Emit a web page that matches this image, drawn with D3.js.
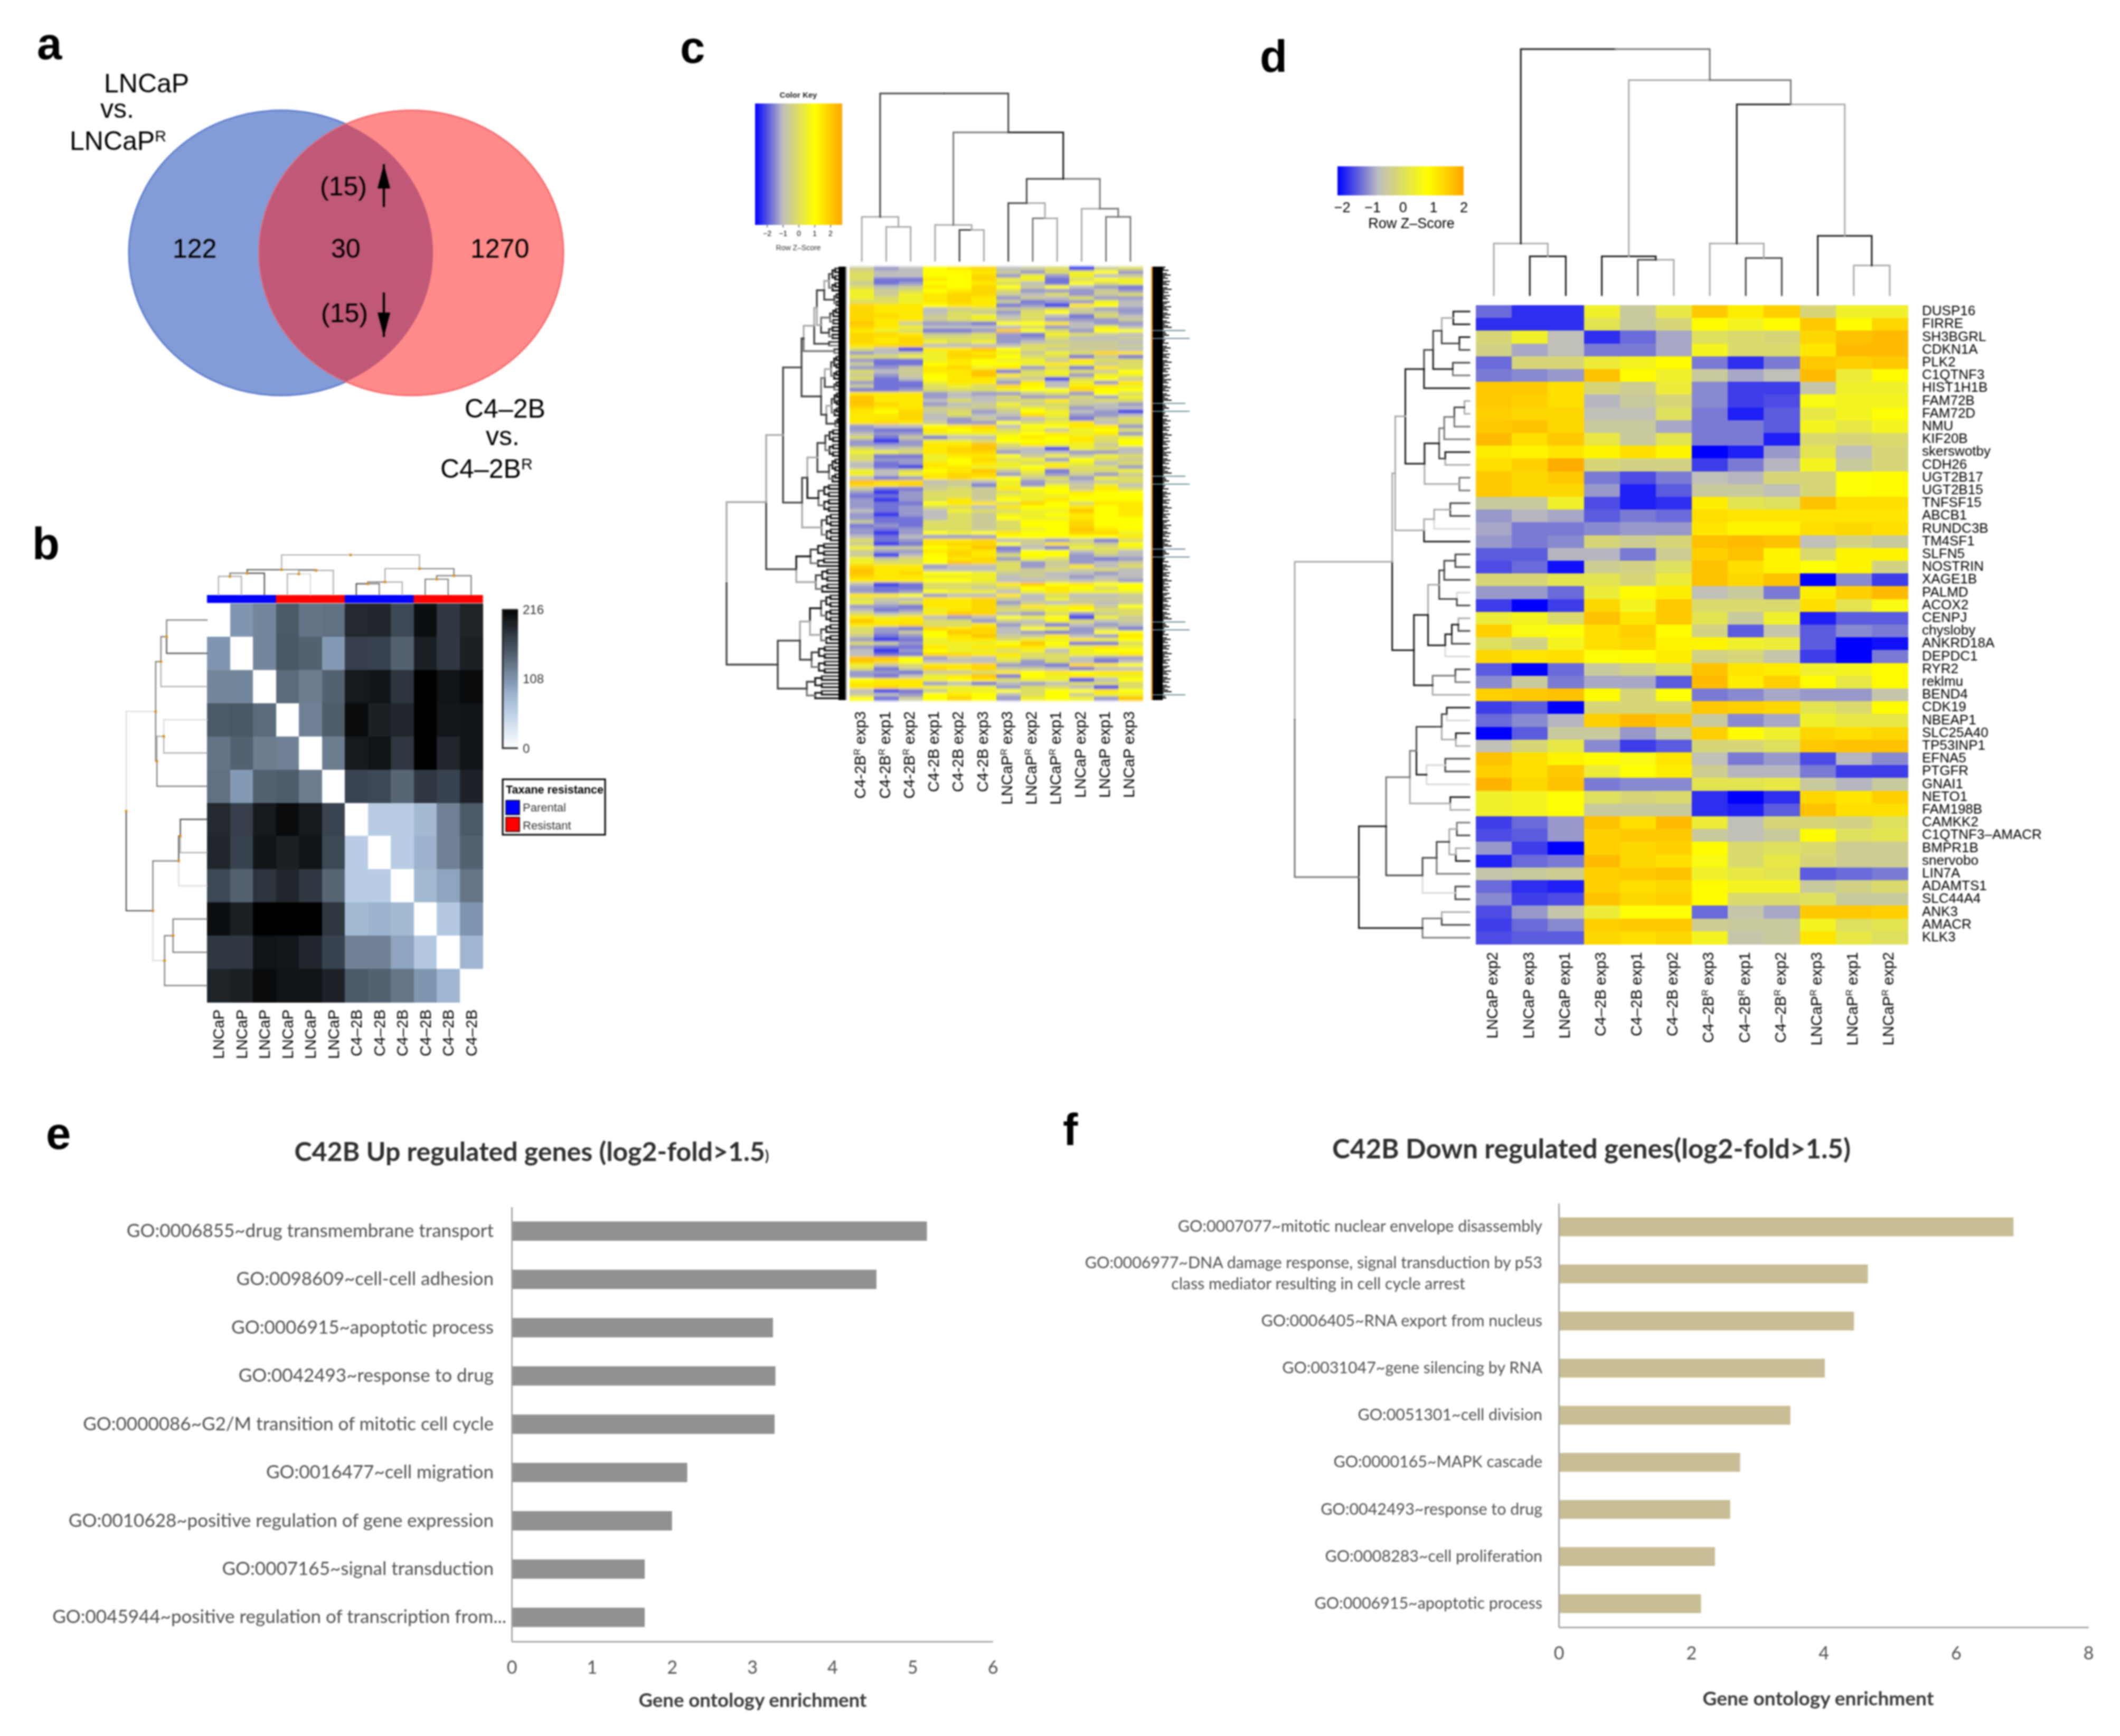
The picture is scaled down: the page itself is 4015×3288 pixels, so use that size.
<!DOCTYPE html>
<html><head><meta charset="utf-8">
<script src="https://cdn.jsdelivr.net/npm/d3@7"></script>
<style>html,body{margin:0;background:#fff}svg{display:block;filter:blur(1.6px)}text{font-family:"Liberation Sans",Arial,sans-serif}.lato text,text.lato{font-family:Lato,sans-serif}</style>
</head><body><svg id="c" width="4015" height="3288" viewBox="0 0 4015 3288"></svg>
<script>
// ---------- DATA ----------
const panelLetters=[["a",70,112],["b",61,1059],["c",1288,119],["d",2386,136],["e",87,2176],["f",2013,2169]];
// a: Venn
const vennCounts={left:"122",both:"30",right:"1270",up:"(15)",down:"(15)"};
// b: sample distance heatmap
const bLabels=["LNCaP","LNCaP","LNCaP","LNCaP","LNCaP","LNCaP","C4–2B","C4–2B","C4–2B","C4–2B","C4–2B","C4–2B"];
const bGroups=["P","P","P","R","R","R","P","P","P","R","R","R"];
const bMatrix=[
[0,105,118,150,132,134,188,190,165,208,178,192],
[105,0,118,152,145,102,172,170,145,195,178,195],
[118,118,0,138,125,145,200,204,180,216,205,210],
[150,152,138,0,122,148,210,195,190,216,203,205],
[132,145,125,122,0,125,200,205,178,216,190,205],
[134,102,145,148,125,0,168,165,142,178,170,193],
[188,172,200,210,200,168,0,58,58,78,122,150],
[190,170,204,195,205,165,58,0,58,85,122,145],
[165,145,180,190,178,142,58,58,0,78,95,130],
[208,195,216,216,216,178,78,85,78,0,62,105],
[178,178,205,203,190,170,122,122,95,62,0,82],
[192,195,210,205,205,193,150,145,130,105,82,0]];
const bColorDomain=[0,58,85,105,125,150,170,190,205,216];
const bColorRange=["#ffffff","#b8cde4","#9db3cd","#8096b0","#6d7d90","#4c5a68","#38424e","#21262c","#101417","#000000"];
// dendrogram nodes: [height, childA, childB, greyA, greyB]; a number is a leaf index
const greys=["#1a1a1a","#444444","#777777","#aaaaaa","#d8d8d8"];
const bColTree=[114,[72,[62,[53,0,1,3,3],2,2,1],[70,[60,3,4,3,4],5,3,3],1,2],[75,[37,[32,6,7,1,2],8,2,3],[55,[45,9,10,2,2],11,2,2],3,2],3,3];
const bRowTree=[200,[127,[114,[100,0,1,2,1],2,2,3],[124,[107,3,4,4,3],5,3,2],2,2],[134,[70,[66,6,7,1,3],8,1,4],[105,[84,9,10,2,2],11,2,2],2,4],4,1];
// c: heatmap, one character per column in each row
const cLabels=["C4-2B^R exp3","C4-2B^R exp1","C4-2B^R exp2","C4-2B exp1","C4-2B exp2","C4-2B exp3","LNCaP^R exp3","LNCaP^R exp2","LNCaP^R exp1","LNCaP exp2","LNCaP exp1","LNCaP exp3"];
const cLevels={B:-1.7,b:-1.25,p:-1.0,g:-.75,o:-.45,d:-.05,e:.4,y:.75,u:1.05,f:1.3,a:1.55};
const cRows=["opgyufgodBod","dggyyuopdeyp","dggyyfpepego","dbbuyfeebdye","obpyyudgbyde","dgouyfyoygpb","eodyufdpppop","eoeuffogdpod","edeufupogdpp","ddeufuobppeg","fuuyuubpBuyg",
"fuugodoodopp","fuugdopdyoop","ffuodegdgbdg","fuuodeodpppo","auoppbyyugpp","fueggggdpgeg","uedbbpaydpyy","ffuoodpbedog","fufdddppdggo","fufedepgooog","uffggggddooo",
"dgBuuaydooog","pgoefueoedfu","ddeeffyddbob","pbbeuyeeoudd","obbyuyyeueod","ppoufeupdbud","dgouuabdedoy","opoyuaudepee","dbgyuuooBdyo","pbbeuupugepu","obbdedfyguue",
"bbpdddeyyfyy","uuupgppodpyd","auupggdppdpe","auugdgoduodd","afupgoeodogp","fuuoooded pgg","uyfodpoyegpB","uufgdggfeppg","uufgpopgdbod","ufuoppydeugd",
"pggyufgyyuup","pbbuyudeoeyd","gppeeeeyueup","dbobggyuyude","pBpeedyyyudy","pppuuaduee oy","dgoufaogBedg","eeduffpggppg","dbbeuuyoeoed","dppeyfdepydo","gbpuyuedeegd","gbBuueeyuddp","egdyuaoebdde","egeuffpdpopo","gbpufuyodped","affgogepogod",
"fufoobepeoeg","obbodouyyoud","pBpddodeyuyy","bbpddoeeeyyy","pBpduoyeuyyy","pbbyuudfyduu","pbpddguyyuyu","gbpgeddeeayu","pBpgdoeeyuyu","pbbgdoyeeuyy","obbddodyyfyy","bpbddodyyfyy","pbpddodeyauy","pBpyeyuyyffe","gbgpppyyyyyu",
"dbpuufgopobd","oBbuffyoudoy","eooyuabgbede","oppufupyygdg","oBgyfudyypog","eodyufpedpbp","eddyafdpopgo","fuupggdpougd","auugggdododg","aufyyeooggpg","fuueeegogpgg","uuuyyeggogop","gBbdddua yuyy","pbbddodyuydy",
"pbpyeegeueee","uuypggugdggo","doguufogeooo","egduufpogogo","ppbuufoueuoy","gbpeufddeydd","dgouafgpdpod","ueugpgyeyBeo","auuddpogedgo","uufddupobgpg","dpbfufgyepob","dpoyafgpbpyy","obpyuaoougpu","pBbeuudeeuey",
"dopeeeyaybbd","pbbueuuueeue","gBpyeedegeyy","gbbffuuddeeu","aaypogeddgpp","afygggdpdgbg","eoduufppbfuy","dbofufoogbgg","ppboodmyuyuu","pbgeuabyeuee","yuueyudeeBgy","uuupgbgpgddd","ufueeepddgBd","gBboeeydyyuy","ogpyuygdyoee","yboyfypeyepa"];
const cColTree=[331,[87,0,[67,1,2,3,3],3,3],[254,[71,3,[61,4,5,1,3],3,3],[162,[114,6,[84,7,8,2,3],1,3],[103,9,[87,10,11,2,2],3,2],1,2],2,0],1,1];
const cSideLens=[24,22,30,18,27,34,24,29,20,33,26,31,19,28,36,23,30,21,33,25,29,18,32,27,22,35,26,30,20,28,34,24,31,19,27,33,23,29,36,21,62,24,26,31,22,70];
// d: heatmap z-scores
const dGenes=["DUSP16","FIRRE","SH3BGRL","CDKN1A","PLK2","C1QTNF3","HIST1H1B","FAM72B","FAM72D","NMU","KIF20B","skerswotby","CDH26","UGT2B17","UGT2B15","TNFSF15","ABCB1","RUNDC3B","TM4SF1","SLFN5","NOSTRIN","XAGE1B","PALMD","ACOX2","CENPJ","chysloby","ANKRD18A","DEPDC1","RYR2","reklmu","BEND4","CDK19","NBEAP1","SLC25A40","TP53INP1","EFNA5","PTGFR","GNAI1","NETO1","FAM198B","CAMKK2","C1QTNF3–AMACR","BMPR1B","snervobo","LIN7A","ADAMTS1","SLC44A4","ANK3","AMACR","KLK3"];
const dLabels=["LNCaP exp2","LNCaP exp3","LNCaP exp1","C4–2B exp3","C4–2B exp1","C4–2B exp2","C4–2B^R exp3","C4–2B^R exp1","C4–2B^R exp2","LNCaP^R exp3","LNCaP^R exp1","LNCaP^R exp2"];
const dValues=[
[-1.3,-1.7,-1.7,.4,-.5,.2,1.5,1,1.4,-.2,.4,.4],
[-1.7,-1.7,-1.7,.1,-.5,-.2,.8,.5,.8,1.5,.8,1.3],
[-.2,.4,-.7,-1.7,-1.3,-.9,0,-.1,-.2,1.3,1.6,1.7],
[-.3,-.9,-.7,-1.2,-1.2,-.9,.5,-.1,-.1,1.1,1.7,1.7],
[-1.3,-.2,-.2,.3,.5,.8,-1.2,-1.7,-1.2,1.5,1.4,1.5],
[-1.2,-1.1,-1,1.6,.8,.4,-.5,-.9,-.7,1.7,.3,.8],
[1.5,1.5,1.2,-.2,-.4,.3,-1.1,-1.6,-1.6,-.6,.4,.4],
[1.5,1.4,1.2,-.8,-.5,-.2,-1.1,-1.6,-1.5,.6,.5,.5],
[1.4,1.3,1.3,-.7,-.7,0,-1.2,-1.8,-1.4,.2,.5,.7],
[1.5,1.6,1.3,-.5,-.5,-.9,-1.2,-1.2,-1.4,.5,.2,.5],
[1.7,1.2,1.5,.2,-.5,.1,-1.2,-1.2,-1.8,-.1,-.2,-.1],
[1,.9,1.1,.9,1.2,.9,-2.1,-1.8,-1,.1,-.7,-.2],
[1.2,1.4,1.9,-.2,-.3,-.3,-1.6,-1.2,-.8,.5,-.5,-.2],
[1.5,1.3,1.5,-1.2,-1.5,-1.2,-.7,-.8,-.2,-.2,.7,.8],
[1.5,1.3,1.3,-1,-1.8,-1.4,-.5,-.5,-.7,-.2,.7,.8],
[-.5,-.5,.4,-1.5,-1.8,-1.7,1,.1,0,1.6,1.2,1.2],
[-1,-.8,-.9,-1.4,-1.2,-1.3,1.2,1.1,1.1,1.1,1.1,1.1],
[-.9,-1.2,-1.2,-1.1,-1,-1,1.1,.9,.9,1.2,1.3,1.2],
[-1,-1.2,-1.1,-.2,-.4,-.2,1.6,1.7,1.6,-.7,-.3,-.5],
[-1.4,-1.4,-.8,-.8,-1.2,-.4,1.4,1.6,.9,-.1,.9,.9],
[-1.5,-1.3,-1.9,-.4,-.3,0,1.6,1.2,.9,.7,.9,-.3],
[-.2,-.2,.1,.1,-.2,.3,1.6,1.3,1.6,-2,-1.1,-1.6],
[-1,-1,-1.3,.3,.8,1,-.7,-.5,-1.2,1,1.4,1.7],
[-1.6,-2,-1.6,1.3,.5,1.5,-.1,-.1,-.1,1.2,.1,.6],
[.3,.5,-.1,1.6,1.1,1.5,.1,-.5,.4,-1.8,-1.4,-1.4],
[1.4,.6,.7,1.2,1.4,.8,-.3,-1.4,-.6,-1.4,-1.1,-1.2],
[0,-.3,.5,1.2,1.3,.9,.9,.4,.3,-1.4,-2,-1.9],
[1.3,1.1,1.2,.7,.8,1,-.3,-.2,-.6,-1.6,-2.1,-1.2],
[-1.4,-2,-1.3,-.5,-.3,0,1.6,1.1,1,.4,.5,.8],
[-1.1,-.5,-1.2,-.9,-.9,-1.4,1.7,1,1.4,.8,.2,.8],
[1.4,1.5,1.6,.8,-.2,.7,-1.2,-1.1,-.9,-1,-1,-.6],
[-1.6,-1.4,-2,-.2,-.2,-.2,1.5,1.4,1.3,.1,-.1,.8],
[-1.3,-1.1,-.8,1.4,1.7,1.5,-.5,-1.1,-.9,.4,.2,.2],
[-2.1,-1.4,-.5,-.5,-1,-.5,1.4,.8,.4,1.3,1.2,1.3],
[-.7,-.2,.2,-1.1,-1.6,-1.4,-.2,-.2,0,1.5,1.6,1.6],
[1.6,1.2,.9,.8,.6,1.1,-.7,-1.2,-1,-1.5,-.8,-1.1],
[1.4,1.2,1.5,.3,.7,1,-.4,-.8,-.8,-1.2,-1.6,-1.6],
[1.8,1.3,1.6,-1.2,-1.1,-1.1,.1,.1,.2,-.5,-.8,-.5],
[.4,.5,.7,0,-.2,-.1,-1.7,-2.1,-1.7,1.3,1.1,1.4],
[.4,.5,.7,-.5,-.5,-.5,-1.7,-1.8,-1.4,1.6,1.2,1.2],
[-1.6,-1.3,-1,1.6,1.2,1.7,.3,-.7,-.2,-.2,-.3,0],
[-1.5,-1.4,-1,1.4,1.5,1.5,-.5,-.7,-.5,.8,0,.1],
[-1,-1.6,-2,1.4,1.3,1.4,.8,-.1,0,-.1,-.4,-.4],
[-1.8,-1.3,-1.2,1.7,1.3,1.2,.6,-.1,.2,-.2,-.4,-.4],
[-.6,-.5,-.4,1.4,1.5,1.6,.4,.2,.1,-1.4,-1.3,-1.2],
[-1.3,-1.7,-1.8,1.4,1.2,1.3,.8,.5,.5,-.5,-.3,-.1],
[-1.1,-1.6,-1.5,1.6,1.3,1.4,.8,-.1,-.1,0,-.5,-.5],
[-1.5,-1,-.6,.3,.7,.7,-1.3,-.6,-.9,1.5,1.5,1.4],
[-1.6,-1.3,-1.1,1.4,1.5,1.5,-.4,-.5,-.5,.5,0,.1],
[-1.5,-1.4,-1.4,1.3,1.2,1.3,.5,-.6,-.5,1.1,.2,0]];
const dColTree=[730,[153,0,[115,1,2,0,0],3,3],[638,[115,3,[105,4,5,1,3],0,0],[566,[153,6,[110,7,8,1,1],3,3],[176,9,[88,10,11,3,3],0,0],0,3],3,2],0,2];
const dRowUpper=[153,[147,[127,[90,[72,[55,[32,0,1,0,0],[20,2,3,0,1],3,1],[33,4,5,1,2],1,0],6,1,0],[89,[60,[50,[30,[10,7,8,3,3],9,1,2],10,2,2],[48,11,12,0,3],2,1],[20,13,14,2,2],0,3],0,0],[90,[70,[38,15,16,1,1],17,3,4],18,3,0],3,3],[110,[82,[60,[50,[28,19,20,1,1],21,1,1],[25,22,23,4,1],1,1],[48,[35,[22,24,25,3,1],26,0,1],27,0,4],3,0],[73,[28,28,29,1,2],30,2,3],0,0],3,0];
const dRowLower=[219,[165,[118,[105,[55,[45,31,32,0,4],[27,33,34,0,3],1,3],[85,[48,35,36,1,1],37,4,4],1,0],[38,38,39,0,3],2,3],[93,[65,[40,[25,40,41,2,1],[27,42,43,3,0],3,3],44,1,2],[28,45,46,1,1],1,4],2,1],[93,[55,47,48,3,1],49,2,2],0,0];
const dRowTree=[346,dRowUpper,dRowLower,3,2];
// e, f: bar charts
const eTerms=["GO:0006855~drug transmembrane transport","GO:0098609~cell-cell adhesion","GO:0006915~apoptotic process","GO:0042493~response to drug","GO:0000086~G2/M transition of mitotic cell cycle","GO:0016477~cell migration","GO:0010628~positive regulation of gene expression","GO:0007165~signal transduction","GO:0045944~positive regulation of transcription from..."];
const eValues=[5.18,4.55,3.26,3.29,3.28,2.19,2.0,1.66,1.66];
const fTerms=["GO:0007077~mitotic nuclear envelope disassembly","GO:0006977~DNA damage response, signal transduction by p53|class mediator resulting in cell cycle arrest","GO:0006405~RNA export from nucleus","GO:0031047~gene silencing by RNA","GO:0051301~cell division","GO:0000165~MAPK cascade","GO:0042493~response to drug","GO:0008283~cell proliferation","GO:0006915~apoptotic process"];
const fValues=[6.87,4.67,4.46,4.02,3.50,2.74,2.59,2.36,2.15];

// ---------- HELPERS ----------
const svg=d3.select("#c"), defs=svg.append("defs");
const rowBlur=defs.append("filter").attr("id","rowBlur").attr("x","-2%").attr("y","-2%").attr("width","104%").attr("height","104%");
rowBlur.append("feGaussianBlur").attr("stdDeviation","0.5 2.2");
function rich(t,str){ str.split(/\^(\w)/).forEach((s,i)=>{ if(!s) return; const ts=t.append("tspan").text(s);
  if(i%2){ts.attr("baseline-shift","super").attr("font-size","60%");} }); return t; }
function label(x,y,str,size,opt={}){ const t=svg.append("text").attr("x",x).attr("y",y).attr("font-size",size)
  .attr("fill",opt.fill||"#000").attr("text-anchor",opt.anchor||"start").attr("font-weight",opt.weight||null).attr("class",opt.cls||null);
  return rich(t,str); }
panelLetters.forEach(d=>label(d[1],d[2],d[0],85,{weight:"bold"}));
const heatColor=d3.scaleLinear().domain([-2,-.75,.75,2]).range(["#0000ff","#bebebe","#ffff00","#ffa500"]).clamp(true);

// Dendrogram: pos(leaf)->leaf position, hs(h)->height position, orient "top"|"left"
function dendro(tree,pos,hs,orient,opt={}){
  const g=svg.append("g").attr("fill","none").attr("stroke-width",opt.width||2.6).attr("stroke-linecap","square");
  const dots=[];
  function walk(n){
    if(typeof n==="number") return {p:pos(n),h:0};
    const a=walk(n[1]), b=walk(n[2]), p=(a.p+b.p)/2, h=n[0];
    [[a,n[3]],[b,n[4]]].forEach(([c,col])=>{
      const path=d3.path();
      if(orient==="top"){path.moveTo(c.p,hs(c.h));path.lineTo(c.p,hs(h));path.lineTo(p,hs(h));}
      else{path.moveTo(hs(c.h),c.p);path.lineTo(hs(h),c.p);path.lineTo(hs(h),p);}
      g.append("path").attr("d",path.toString()).attr("stroke",greys[col===undefined?(opt.def||1):col]);
    });
    dots.push(orient==="top"?[p,hs(h)]:[hs(h),p]);
    return {p,h};
  }
  walk(tree);
  if(opt.dots) svg.append("g").selectAll("circle").data(dots).join("circle").attr("cx",d=>d[0]).attr("cy",d=>d[1]).attr("r",2.6).attr("fill","#d98c1a");
}
function gradient(id,scale,dom,vertical){ const g=defs.append("linearGradient").attr("id",id);
  if(vertical) g.attr("x1",0).attr("y1",1).attr("x2",0).attr("y2",0);
  d3.range(0,1.001,.04).forEach(t=>g.append("stop").attr("offset",t).attr("stop-color",scale(dom[0]+t*(dom[1]-dom[0])))); return `url(#${id})`; }
function colLabels(x,top,labels,size,off=.36){ labels.forEach((s,i)=>{ const cx=x(i)+x.bandwidth()/2+size*off;
  const t=svg.append("text").attr("text-anchor","end").attr("font-size",size).attr("transform",`translate(${cx},${top}) rotate(-90)`); rich(t,s);}); }
function cells(x,y,vals,fill){ const g=svg.append("g").attr("shape-rendering","crispEdges"); g.selectAll("g").data(vals).join("g").each(function(r,i){
  d3.select(this).selectAll("rect").data(r).join("rect").attr("x",(d,j)=>x(j)).attr("y",y(i)).attr("width",x.bandwidth()+.6).attr("height",y.bandwidth()+.6).attr("fill",fill);}); return g; }

// ---------- a ----------
(function(){
  const rx=288, ry=270, cy=479, lx=532, rxc=779;
  defs.append("clipPath").attr("id","lens").append("ellipse").attr("cx",lx).attr("cy",cy).attr("rx",rx).attr("ry",ry);
  svg.append("ellipse").attr("cx",lx).attr("cy",cy).attr("rx",rx).attr("ry",ry).attr("fill","#839bd6").attr("stroke","#5f7fcf").attr("stroke-width",3);
  svg.append("ellipse").attr("cx",rxc).attr("cy",cy).attr("rx",rx).attr("ry",ry).attr("fill","#ff8a8a").attr("stroke","#f86a70").attr("stroke-width",3);
  svg.append("ellipse").attr("cx",rxc).attr("cy",cy).attr("rx",rx).attr("ry",ry).attr("fill","#c05878").attr("clip-path","url(#lens)");
  label(197,175,"LNCaP",50); label(190,223,"vs.",50); label(132,284,"LNCaP^R",50);
  label(880,791,"C4–2B",50); label(920,843,"vs.",50); label(834,905,"C4–2B^R",50);
  label(327,488,vennCounts.left,50); label(627,488,vennCounts.both,50); label(891,488,vennCounts.right,50);
  label(606,370,vennCounts.up,50); label(608,610,vennCounts.down,50);
  const arrow=(x,y1,y2)=>{const dir=y2<y1?1:-1;
    svg.append("line").attr("x1",x).attr("x2",x).attr("y1",y1).attr("y2",y2).attr("stroke","#000").attr("stroke-width",4);
    svg.append("path").attr("d",`M${x},${y2}L${x-12},${y2+dir*46}L${x+12},${y2+dir*46}Z`).attr("fill","#000");};
  arrow(727,392,311); arrow(727,554,638);
})();

// ---------- b ----------
(function(){
  const idx=d3.range(12);
  const x=d3.scaleBand().domain(idx).range([392,914]), y=d3.scaleBand().domain(idx).range([1143,1898]);
  const col=d3.scaleLinear().domain(bColorDomain).range(bColorRange);
  cells(x,y,bMatrix,d=>col(d));
  svg.append("g").selectAll("rect").data(bGroups).join("rect").attr("x",(d,i)=>x(i)).attr("y",1127).attr("width",x.bandwidth()+.6).attr("height",15).attr("fill",d=>d==="P"?"#0000ff":"#ff0000");
  dendro(bColTree,i=>x(i)+x.bandwidth()/2,d3.scaleLinear().domain([0,114]).range([1127,1051]),"top",{dots:true,width:2.2});
  dendro(bRowTree,i=>y(i)+y.bandwidth()/2,d3.scaleLinear().domain([0,200]).range([392,239]),"left",{dots:true,width:2.2});
  colLabels(x,1912,bLabels,29);
  // key
  const fill=gradient("bk",col,[0,216],true);
  svg.append("rect").attr("x",952).attr("y",1155).attr("width",29).attr("height",262).attr("fill",fill);
  svg.append("path").attr("d","M981,1155H952V1417H981").attr("fill","none").attr("stroke","#222").attr("stroke-width",3);
  [["216",1163],["108",1294],["0",1426]].forEach(d=>label(990,d[1],d[0],24,{fill:"#333"}));
  svg.append("rect").attr("x",952).attr("y",1476).attr("width",194).attr("height",105).attr("fill","#fff").attr("stroke","#000").attr("stroke-width",3);
  label(958,1503,"Taxane resistance",21.5,{weight:"bold"});
  [["Parental",1516,"#0000ff",1537],["Resistant",1548,"#ff0000",1571]].forEach(d=>{
    svg.append("rect").attr("x",958).attr("y",d[1]).attr("width",26).attr("height",27).attr("fill",d[2]).attr("stroke","#000").attr("stroke-width",1.5);
    label(990,d[3],d[0],22,{fill:"#333"});});
})();

// ---------- c ----------
(function(){
  const vals=cRows.map(r=>r.replace(/ /g,"").replace(/m/g,"u").slice(0,12).split("").map(c=>cLevels[c]));
  const x=d3.scaleBand().domain(d3.range(12)).range([1609,2164]), y=d3.scaleBand().domain(d3.range(vals.length)).range([505,1326]);
  cells(x,y,vals,d=>heatColor(d)).attr("filter","url(#rowBlur)");
  colLabels(x,1347,cLabels,29,.25);
  dendro(cColTree,i=>x(i)+x.bandwidth()/2,d3.scaleLinear().domain([0,331]).range([494,177]),"top",{width:3});
  // row tree: cl() spreads a run of heatmap rows into a small balanced subtree
  const cl=(a,b,h,depth=0)=>{ if(a===b) return a; const m=Math.floor((a+b)/2);
    const c=depth%2?0:1; return [h,cl(a,m,h*.78,depth+1),cl(m+1,b,h*.78,depth+1),c,depth%3?0:2]; };
  const A=[39,cl(0,6,30),cl(7,10,20),3,1], B=[45,cl(11,15,28),cl(16,19,30),2,1];
  const X1=[78,[58,[53,A,B,1,3],cl(20,21,30),3,1],cl(22,23,20),3,2];
  const X2=[45,[38,cl(24,30,26),cl(31,33,20),3,1],[35,cl(34,40,25),cl(41,43,18),3,1],2,1];
  const E=[81,[71,[52,cl(44,51,37),cl(52,58,30),1,1],cl(59,66,50),3,0],cl(67,74,44),1,3];
  const Mid=[117,[82,X1,X2,1,1],E,1,1];
  const H=[92,cl(75,81,65),cl(82,88,55),0,3];
  const Lower=[127,[85,[66,cl(89,96,45),cl(97,102,45),0,3],cl(103,110,63),3,1],cl(111,117,72),1,1];
  const tree=[224,[149,Mid,H,3,1],Lower,3,1];
  dendro(tree,i=>y(i)+y.bandwidth()/2,d3.scaleLinear().domain([0,224]).range([1600,1376]),"left",{width:3.4});
  svg.append("rect").attr("x",1588).attr("y",505).attr("width",13).attr("height",821).attr("fill","#000");
  svg.append("rect").attr("x",1601).attr("y",505).attr("width",3).attr("height",821).attr("fill","#999");
  // right side: unreadable tiny gene labels, drawn as a black comb
  svg.append("rect").attr("x",2180).attr("y",505).attr("width",3).attr("height",821).attr("fill","#f29a2e");
  svg.append("rect").attr("x",2183).attr("y",505).attr("width",19).attr("height",821).attr("fill","#000");
  svg.append("g").selectAll("rect").data(d3.range(273)).join("rect").attr("x",2183).attr("y",i=>505+i*3).attr("height",2)
    .attr("width",i=>cSideLens[i%cSideLens.length]).attr("fill",i=>cSideLens[i%cSideLens.length]>40?"#6a8a96":"#000");
  // key
  const kx=d3.scaleLinear().domain([-2.75,2.75]).range([1430,1595]);
  const fill=gradient("ck",d3.scaleLinear().domain([-2.75,-1,1,2.75]).range(["#0000ff","#bebebe","#ffff00","#ffa500"]),[-2.75,2.75]);
  svg.append("rect").attr("x",1430).attr("y",196).attr("width",165).attr("height",230).attr("fill",fill);
  const ax=svg.append("g").attr("transform","translate(0,426)").call(d3.axisBottom(kx).tickValues([-2,-1,0,1,2]).tickSize(5).tickPadding(6).tickFormat(d3.format("d")));
  ax.select(".domain").remove(); ax.selectAll("text").attr("font-size",14).attr("font-family","Liberation Sans");
  label(1512,185,"Color Key",15,{anchor:"middle",weight:"bold",fill:"#222"});
  label(1512,474,"Row Z–Score",14,{anchor:"middle",fill:"#333"});
})();

// ---------- d ----------
(function(){
  const x=d3.scaleBand().domain(d3.range(12)).range([2795,3613]), y=d3.scaleBand().domain(d3.range(50)).range([578,1788]);
  cells(x,y,dValues,d=>heatColor(d));
  dGenes.forEach((g,i)=>label(3640,y(i)+y.bandwidth()/2+7,g,26));
  colLabels(x,1803,dLabels,29,.25);
  dendro(dColTree,i=>x(i)+x.bandwidth()/2,d3.scaleLinear().domain([0,730]).range([559,93]),"top",{width:3});
  dendro(dRowTree,i=>y(i)+y.bandwidth()/2,d3.scaleLinear().domain([0,346]).range([2783,2452]),"left",{width:3});
  const kx=d3.scaleLinear().domain([-2.15,2]).range([2533,2772]);
  const fill=gradient("dk",d3.scaleLinear().domain([-2.15,-.8,.8,2]).range(["#0000ff","#bebebe","#ffff00","#ffa500"]),[-2.15,2]);
  svg.append("rect").attr("x",2533).attr("y",315).attr("width",239).attr("height",55).attr("fill",fill);
  const ax=svg.append("g").attr("transform","translate(0,370)").call(d3.axisBottom(kx).tickValues([-2,-1,0,1,2]).tickSize(0).tickPadding(13).tickFormat(d3.format("d")));
  ax.select(".domain").remove(); ax.selectAll("text").attr("font-size",27).attr("font-family","Liberation Sans");
  label(2673,432,"Row Z–Score",27,{anchor:"middle"});
})();

// ---------- e, f ----------
function bars(o){
  const x=d3.scaleLinear().domain([0,o.max]).range([o.x0,o.x1]);
  const y=d3.scaleBand().domain(o.terms).range([o.top,o.base]).paddingInner(.6).paddingOuter(.3);
  svg.append("g").selectAll("rect").data(o.values).join("rect").attr("x",o.x0).attr("y",(d,i)=>y(o.terms[i])).attr("width",d=>x(d)-o.x0).attr("height",y.bandwidth()).attr("fill",o.color);
  const gx=svg.append("g").attr("transform",`translate(0,${o.base})`).attr("class","lato").call(d3.axisBottom(x).ticks(o.max/o.step).tickSize(0).tickPadding(37));
  const gy=svg.append("g").attr("transform",`translate(${o.x0},0)`).attr("class","lato").call(d3.axisLeft(y).tickSize(0).tickPadding(o.pad));
  [gx,gy].forEach(g=>{g.select(".domain").attr("stroke","#a6a6a6").attr("stroke-width",3);
    g.selectAll("text").attr("font-size",o.fs).attr("fill","#505050").attr("font-family","Lato");});
  gx.selectAll("text").attr("font-size",34);
  gy.selectAll("text").each(function(d){ const el=d3.select(this);
    if(d.includes("|")){ const [a,b]=d.split("|"); el.text(null);
      el.append("tspan").attr("x",-o.pad).attr("y",-21).attr("dy",".32em").text(a);
      el.append("tspan").attr("x",-o.pad-(o.pad2||0)).attr("text-anchor","end").attr("y",19).attr("dy",".32em").text(b);
    } else if(d.endsWith("...")) el.attr("x",-10);
  });
  label((o.x0+o.x1)/2+o.tdx,o.ty,"Gene ontology enrichment",o.tfs,{anchor:"middle",weight:"bold",fill:"#3a3a3a",cls:"lato"});
}
bars({terms:eTerms,values:eValues,max:6,step:1,x0:969,x1:1880,top:2286,base:3109,color:"#919191",pad:34,fs:35,tdx:1,ty:3233,tfs:36.5});
bars({terms:fTerms,values:fValues,max:8,step:2,x0:2952,x1:3955,top:2279,base:3082,color:"#c8bd94",pad:31,pad2:146,fs:30.4,tdx:-10,ty:3230,tfs:37});
const t1=label(1007,2199,"C42B Up regulated genes (log2-fold>1.5",50,{anchor:"middle",weight:"bold",fill:"#2f2f2f",cls:"lato"});
t1.append("tspan").attr("font-size",28).text(")");
label(3014,2194,"C42B Down regulated genes(log2-fold>1.5)",51,{anchor:"middle",weight:"bold",fill:"#2f2f2f",cls:"lato"});
</script></body></html>
